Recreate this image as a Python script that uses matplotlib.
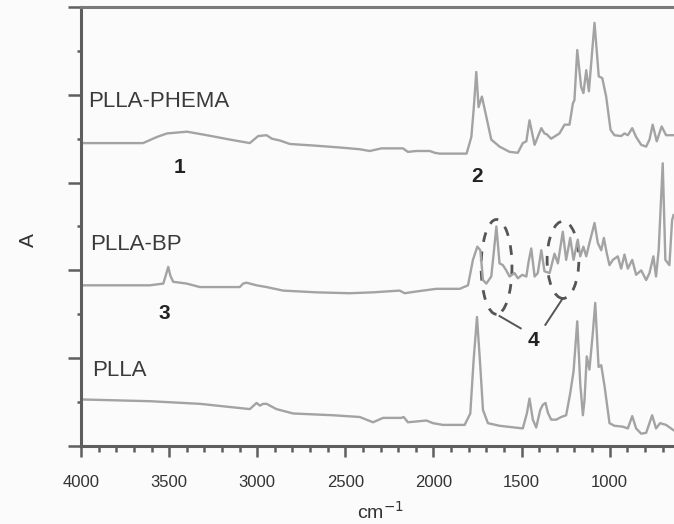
import matplotlib
matplotlib.use("Agg")
import matplotlib.pyplot as plt
from matplotlib.patches import Ellipse
from matplotlib.ticker import MultipleLocator

plt.rcParams['font.family'] = ['Liberation Sans', 'DejaVu Sans']

# FTIR absorbance traces (wavenumber in cm-1, stacked absorbance in arbitrary units)
phema_wn = [4000, 3648, 3569, 3512, 3399, 3286, 3155, 3042, 2995, 2947, 2917, 2872, 2815,
            2664, 2532, 2418, 2362, 2295, 2173, 2145, 2097, 2021, 1993, 1965, 1812, 1785,
            1772, 1757, 1744, 1725, 1700, 1672, 1625, 1568, 1521, 1493, 1473, 1455, 1426,
            1388, 1370, 1357, 1332, 1285, 1256, 1228, 1209, 1200, 1184, 1162, 1149, 1133,
            1118, 1086, 1062, 1042, 1020, 995, 973, 935, 916, 897, 872, 850, 821, 793, 774,
            756, 733, 705, 680, 638]
phema_abs = [3.45, 3.45, 3.52, 3.56, 3.58, 3.54, 3.49, 3.45, 3.53, 3.54, 3.50, 3.48, 3.44,
             3.42, 3.40, 3.38, 3.36, 3.39, 3.39, 3.35, 3.36, 3.36, 3.34, 3.33, 3.33, 3.52,
             3.83, 4.26, 3.86, 3.98, 3.75, 3.49, 3.41, 3.35, 3.34, 3.45, 3.47, 3.71, 3.43,
             3.62, 3.56, 3.55, 3.50, 3.56, 3.66, 3.66, 3.90, 3.94, 4.51, 4.09, 4.02, 4.28,
             4.04, 4.82, 4.21, 4.19, 3.98, 3.60, 3.54, 3.53, 3.56, 3.54, 3.62, 3.52, 3.43,
             3.41, 3.49, 3.66, 3.47, 3.64, 3.54, 3.54]

bp_wn = [4000, 3609, 3533, 3518, 3505, 3493, 3477, 3401, 3325, 3138, 3099, 3080, 3061, 3004,
         2947, 2853, 2664, 2475, 2343, 2192, 2163, 2097, 1984, 1851, 1804, 1776, 1751, 1734,
         1719, 1700, 1672, 1659, 1643, 1625, 1606, 1587, 1568, 1540, 1521, 1496, 1473, 1460,
         1445, 1426, 1408, 1388, 1370, 1341, 1313, 1294, 1266, 1247, 1224, 1205, 1181, 1167,
         1149, 1133, 1115, 1086, 1067, 1048, 1033, 1016, 1001, 982, 954, 935, 916, 897, 872,
         850, 821, 793, 774, 752, 737, 722, 699, 684, 661, 646, 638]
bp_abs = [1.83, 1.83, 1.85, 1.95, 2.04, 1.94, 1.87, 1.85, 1.81, 1.81, 1.81, 1.85, 1.86, 1.83,
          1.81, 1.77, 1.75, 1.74, 1.75, 1.77, 1.74, 1.76, 1.79, 1.79, 1.83, 2.12, 2.27, 2.23,
          1.89, 1.85, 1.93, 2.18, 2.50, 2.08, 2.06, 2.00, 1.93, 1.97, 1.91, 1.95, 1.93, 2.10,
          2.25, 1.93, 1.97, 2.23, 1.99, 1.97, 2.19, 2.08, 2.44, 2.12, 2.37, 2.12, 2.35, 2.16,
          2.27, 2.16, 2.31, 2.54, 2.31, 2.23, 2.37, 2.19, 2.06, 2.12, 2.16, 2.02, 2.18, 2.02,
          2.12, 1.95, 2.00, 1.89, 1.97, 2.16, 1.93, 2.23, 3.22, 2.12, 2.06, 2.57, 2.63]

plla_wn = [4000, 3609, 3325, 3042, 3004, 2985, 2966, 2947, 2891, 2796, 2570, 2418, 2343, 2286,
           2182, 2169, 2145, 2040, 2003, 1946, 1823, 1791, 1772, 1753, 1734, 1719, 1691, 1625,
           1493, 1470, 1455, 1436, 1417, 1394, 1379, 1364, 1351, 1332, 1303, 1275, 1247, 1224,
           1205, 1184, 1167, 1152, 1143, 1130, 1115, 1096, 1082, 1063, 1048, 1029, 1001, 973,
           926, 897, 872, 850, 821, 793, 759, 737, 714, 680, 638]
plla_abs = [0.53, 0.51, 0.48, 0.42, 0.49, 0.46, 0.48, 0.48, 0.42, 0.37, 0.35, 0.33, 0.27, 0.32,
            0.32, 0.33, 0.27, 0.29, 0.26, 0.24, 0.24, 0.37, 0.98, 1.47, 0.90, 0.41, 0.26, 0.23,
            0.20, 0.37, 0.54, 0.30, 0.21, 0.41, 0.47, 0.49, 0.38, 0.30, 0.30, 0.33, 0.35, 0.60,
            0.85, 1.42, 0.71, 0.35, 0.52, 1.02, 0.87, 1.28, 1.63, 0.90, 0.92, 0.68, 0.26, 0.23,
            0.22, 0.20, 0.34, 0.20, 0.14, 0.15, 0.35, 0.20, 0.26, 0.24, 0.18]

x_ticks = [4000, 3500, 3000, 2500, 2000, 1500, 1000]

line_color = "#a3a3a3"
axis_color = "#5e5e5e"

fig = plt.figure(figsize=(6.74, 5.24), dpi=100, facecolor="#fbfbfb")
ax = fig.add_axes([0.1202, 0.1489, 0.8798, 0.8377])
ax.set_facecolor("#fbfbfb")

for wn, ab in ((phema_wn, phema_abs), (bp_wn, bp_abs), (plla_wn, plla_abs)):
    ax.plot(wn, ab, color=line_color, lw=1.7, solid_joinstyle="round")

ax.set_xlim(4000, 635)
ax.set_ylim(0, 5)

# axes frame
ax.spines["right"].set_visible(False)
ax.spines["left"].set_color(axis_color)
ax.spines["bottom"].set_color(axis_color)
ax.spines["top"].set_color("#7a7a7a")
for s in ("left", "bottom", "top"):
    ax.spines[s].set_linewidth(2.2)

ax.set_xticks(x_ticks)
ax.xaxis.set_minor_locator(MultipleLocator(100))
ax.yaxis.set_major_locator(MultipleLocator(1))
ax.yaxis.set_minor_locator(MultipleLocator(0.5))
ax.set_yticklabels([])
ax.tick_params(axis="x", which="major", direction="out", length=8, width=1.8,
               color=axis_color, labelsize=12, labelcolor="#333333", pad=13)
ax.tick_params(axis="x", which="minor", direction="out", length=4, width=1.8,
               color=axis_color)
ax.tick_params(axis="y", which="major", direction="out", length=9.5, width=1.8,
               color=axis_color)
ax.tick_params(axis="y", which="minor", direction="out", length=3, width=1.8,
               color=axis_color)

ax.set_xlabel("cm$^{-1}$", fontsize=14, color="#333333")
ax.xaxis.set_label_coords(0.505, -0.125)
ax.set_ylabel("A", fontsize=15, color="#333333")
ax.yaxis.set_label_coords(-0.072, 0.47)

# sample names
txt = dict(fontsize=16, color="#3a3a3a", va="center", ha="left")
ax.text(3960, 3.92, "PLLA-PHEMA", **txt)
ax.text(3950, 2.30, "PLLA-BP", **txt)
ax.text(3935, 0.86, "PLLA", **txt)

# band markers
num = dict(fontsize=15, color="#222222", fontweight="bold", ha="center", va="center")
ax.text(3440, 3.17, "1", **num)
ax.text(1755, 3.07, "2", **num)
ax.text(3530, 1.51, "3", **num)
ax.text(1430, 1.20, "4", **num)

# highlighted bands in the PLLA-BP trace
dash = dict(fill=False, edgecolor="#555555", lw=2.0, linestyle=(0, (3.5, 3.5)))
ax.add_patch(Ellipse((1642, 2.04), 175, 1.08, **dash))
ax.add_patch(Ellipse((1265, 2.12), 180, 0.88, **dash))
ax.plot([1625, 1505], [1.48, 1.34], color="#555555", lw=1.4)
ax.plot([1270, 1365], [1.67, 1.38], color="#555555", lw=1.4)

fig.savefig("out.png", dpi=100, facecolor=fig.get_facecolor())
